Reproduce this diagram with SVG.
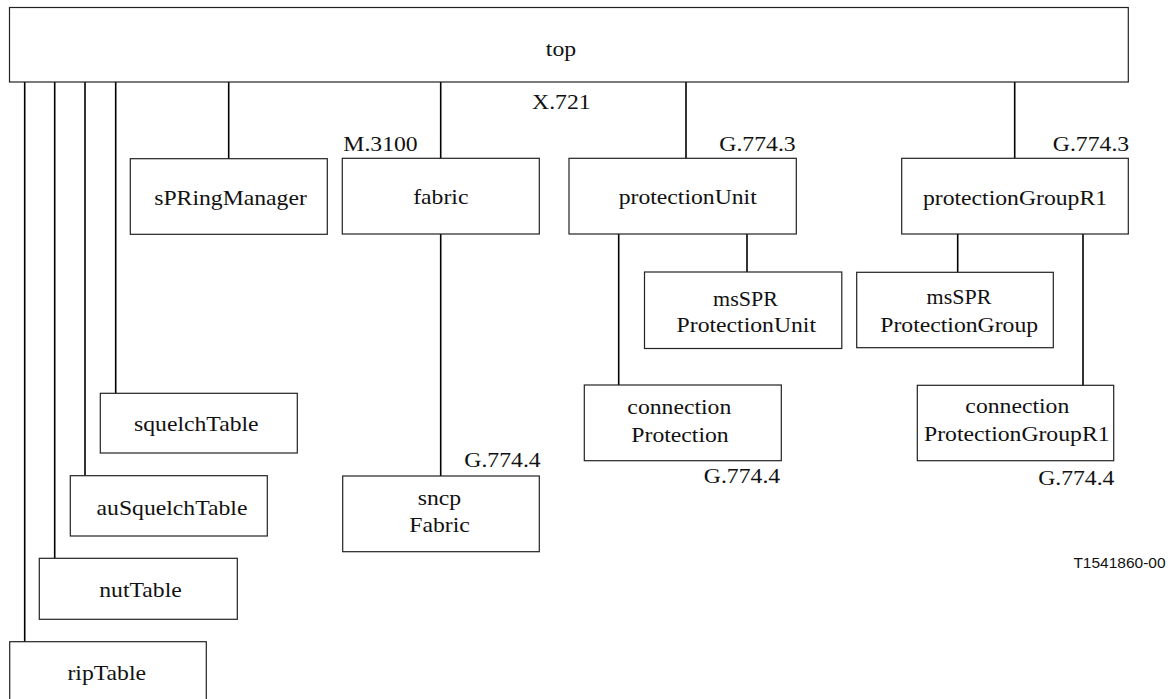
<svg xmlns="http://www.w3.org/2000/svg" width="1174" height="699" viewBox="0 0 1174 699">
<style>
.box{fill:#fff;stroke:#222;stroke-width:1.2}
.lbl{font-family:"Liberation Serif","Times New Roman",serif;font-size:20px;fill:#111;text-anchor:middle}
.con line{stroke:#000;stroke-width:1.6}
.code{font-family:"Liberation Sans",Arial,sans-serif;font-size:15.5px;fill:#111;text-anchor:middle}
</style>
<rect width="1174" height="699" fill="#fff"/>
<g id="connectors" class="con">
<line x1="24.7" y1="82" x2="24.7" y2="641.7"/>
<line x1="54.7" y1="82" x2="54.7" y2="558.3"/>
<line x1="85" y1="82" x2="85" y2="475.7"/>
<line x1="115.7" y1="82" x2="115.7" y2="393.3"/>
<line x1="228.7" y1="82" x2="228.7" y2="158.7"/>
<line x1="440.7" y1="82" x2="440.7" y2="158.3"/>
<line x1="440.7" y1="234" x2="440.7" y2="476"/>
<line x1="686" y1="82" x2="686" y2="158.3"/>
<line x1="618.7" y1="234" x2="618.7" y2="385"/>
<line x1="747" y1="234" x2="747" y2="272"/>
<line x1="1014.7" y1="82" x2="1014.7" y2="158.3"/>
<line x1="957.7" y1="234" x2="957.7" y2="272.3"/>
<line x1="1083" y1="234" x2="1083" y2="385.3"/>
</g>
<g id="top">
<rect class="box" x="9.5" y="7.5" width="1118.8" height="74.5"/>
<text class="lbl" transform="translate(561,56) scale(1.185,1)">top</text>
<text class="lbl" transform="translate(561.3,109) scale(1.185,1)">X.721</text>
</g>
<g id="sPRingManager">
<rect class="box" x="130.3" y="158.7" width="197" height="75.6"/>
<text class="lbl" transform="translate(230.5,205) scale(1.185,1)">sPRingManager</text>
</g>
<g id="fabric">
<rect class="box" x="342.3" y="158.3" width="197" height="75.7"/>
<text class="lbl" transform="translate(440.8,204.3) scale(1.185,1)">fabric</text>
<text class="lbl" transform="translate(380.5,151) scale(1.185,1)">M.3100</text>
</g>
<g id="protectionUnit">
<rect class="box" x="569" y="158.3" width="227.3" height="75.7"/>
<text class="lbl" transform="translate(687.7,204.3) scale(1.185,1)">protectionUnit</text>
<text class="lbl" transform="translate(757.5,151) scale(1.185,1)">G.774.3</text>
</g>
<g id="protectionGroupR1">
<rect class="box" x="901.7" y="158.3" width="226.6" height="75.7"/>
<text class="lbl" transform="translate(1015,205) scale(1.185,1)">protectionGroupR1</text>
<text class="lbl" transform="translate(1091,151) scale(1.185,1)">G.774.3</text>
</g>
<g id="msSPRProtectionUnit">
<rect class="box" x="644.5" y="272" width="197.3" height="76.5"/>
<text class="lbl" transform="translate(745.5,305.7) scale(1.1,1)">msSPR</text>
<text class="lbl" transform="translate(746.3,331.7) scale(1.185,1)">ProtectionUnit</text>
</g>
<g id="msSPRProtectionGroup">
<rect class="box" x="856.7" y="272.3" width="196.6" height="75.4"/>
<text class="lbl" transform="translate(959,304.3) scale(1.1,1)">msSPR</text>
<text class="lbl" transform="translate(959.2,331.7) scale(1.185,1)">ProtectionGroup</text>
</g>
<g id="connectionProtection">
<rect class="box" x="584.3" y="385" width="197" height="75.7"/>
<text class="lbl" transform="translate(679.3,414.3) scale(1.185,1)">connection</text>
<text class="lbl" transform="translate(680,441.5) scale(1.185,1)">Protection</text>
<text class="lbl" transform="translate(742,483.3) scale(1.185,1)">G.774.4</text>
</g>
<g id="connectionProtectionGroupR1">
<rect class="box" x="917.3" y="385.3" width="196.4" height="75.4"/>
<text class="lbl" transform="translate(1017.3,413.3) scale(1.185,1)">connection</text>
<text class="lbl" transform="translate(1016.8,440.7) scale(1.185,1)">ProtectionGroupR1</text>
<text class="lbl" transform="translate(1076.3,485) scale(1.185,1)">G.774.4</text>
</g>
<g id="sncpFabric">
<rect class="box" x="342.7" y="476" width="196.6" height="75.7"/>
<text class="lbl" transform="translate(439.5,504.5) scale(1.185,1)">sncp</text>
<text class="lbl" transform="translate(439.5,531.7) scale(1.185,1)">Fabric</text>
<text class="lbl" transform="translate(502.5,467.3) scale(1.185,1)">G.774.4</text>
</g>
<g id="squelchTable">
<rect class="box" x="100.3" y="393.3" width="197" height="59.7"/>
<text class="lbl" transform="translate(196.3,430.7) scale(1.185,1)">squelchTable</text>
</g>
<g id="auSquelchTable">
<rect class="box" x="70.3" y="475.7" width="197" height="60.3"/>
<text class="lbl" transform="translate(172,515) scale(1.185,1)">auSquelchTable</text>
</g>
<g id="nutTable">
<rect class="box" x="39.3" y="558.3" width="198" height="61"/>
<text class="lbl" transform="translate(140.5,596.7) scale(1.185,1)">nutTable</text>
</g>
<g id="ripTable">
<rect class="box" x="9.7" y="641.7" width="196.6" height="70"/>
<text class="lbl" transform="translate(106.7,680) scale(1.185,1)">ripTable</text>
</g>
<text class="code" x="1119.5" y="568">T1541860-00</text>
</svg>
